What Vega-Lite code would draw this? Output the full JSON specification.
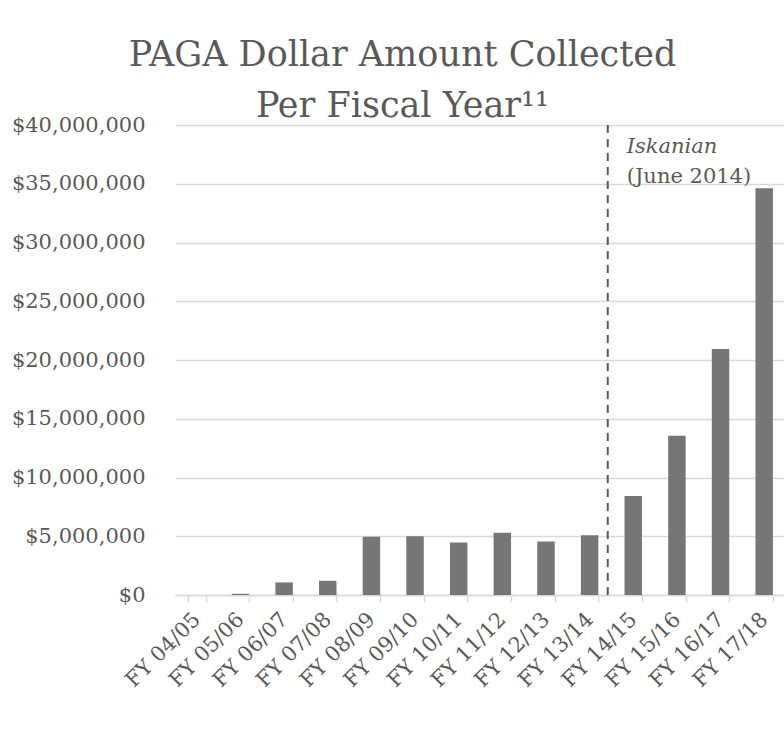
{
  "$schema": "https://vega.github.io/schema/vega-lite/v6.json",
  "autosize": {"type": "none"},
  "padding": {"left": 175, "top": 125, "right": 0, "bottom": 156},
  "width": 611,
  "height": 470,
  "background": "white",
  "title": {
    "text": ["PAGA Dollar Amount Collected", "Per Fiscal Year¹¹"],
    "anchor": "middle",
    "dx": -78,
    "offset": -38,
    "baseline": "alphabetic",
    "lineHeight": 51,
    "font": "DejaVu Serif",
    "fontSize": 35,
    "fontWeight": "normal",
    "color": "#595959"
  },
  "config": {
    "view": {"stroke": null},
    "font": "DejaVu Serif"
  },
  "data": {
    "values": [
      {"year": "FY 04/05", "amount": 0},
      {"year": "FY 05/06", "amount": 100000},
      {"year": "FY 06/07", "amount": 1070000},
      {"year": "FY 07/08", "amount": 1210000},
      {"year": "FY 08/09", "amount": 4960000},
      {"year": "FY 09/10", "amount": 5000000},
      {"year": "FY 10/11", "amount": 4470000},
      {"year": "FY 11/12", "amount": 5300000},
      {"year": "FY 12/13", "amount": 4560000},
      {"year": "FY 13/14", "amount": 5090000},
      {"year": "FY 14/15", "amount": 8420000},
      {"year": "FY 15/16", "amount": 13550000},
      {"year": "FY 16/17", "amount": 20930000},
      {"year": "FY 17/18", "amount": 34620000}
    ]
  },
  "layer": [
    {
      "mark": {"type": "bar", "color": "#767676"},
      "encoding": {
        "x": {
          "field": "year",
          "type": "nominal",
          "sort": null,
          "scale": {"paddingInner": 0.6, "paddingOuter": 0.3},
          "axis": {
            "title": null,
            "domainColor": "#d9d9d9",
            "domainWidth": 1.5,
            "tickColor": "#d9d9d9",
            "tickWidth": 1.5,
            "tickSize": 7,
            "tickBand": "extent",
            "labelAngle": -45,
            "labelAlign": "right",
            "labelBaseline": "middle",
            "labelPadding": 14,
            "labelFont": "DejaVu Serif",
            "labelFontSize": 21,
            "labelColor": "#595959",
            "grid": false
          }
        },
        "y": {
          "field": "amount",
          "type": "quantitative",
          "scale": {"domain": [0, 40000000]},
          "axis": {
            "title": null,
            "values": [0, 5000000, 10000000, 15000000, 20000000, 25000000, 30000000, 35000000, 40000000],
            "format": "$,.0f",
            "domain": false,
            "ticks": false,
            "labelPadding": 30,
            "labelFont": "DejaVu Serif",
            "labelFontSize": 21,
            "labelColor": "#595959",
            "gridColor": "#d9d9d9",
            "gridWidth": 1.5
          }
        }
      }
    },
    {
      "data": {"values": [{}]},
      "mark": {"type": "rule", "color": "#595959", "strokeWidth": 2, "strokeDash": [8, 6], "xOffset": -25.5},
      "encoding": {
        "x": {"datum": "FY 14/15"},
        "y": {"datum": 0},
        "y2": {"datum": 40000000}
      }
    },
    {
      "data": {"values": [{}]},
      "mark": {"type": "text", "text": "Iskanian", "fontStyle": "italic", "align": "left", "baseline": "alphabetic", "dx": -6.5, "fontSize": 21, "color": "#595959", "font": "DejaVu Serif"},
      "encoding": {
        "x": {"datum": "FY 14/15"},
        "y": {"datum": 37600000}
      }
    },
    {
      "data": {"values": [{}]},
      "mark": {"type": "text", "text": "(June 2014)", "align": "left", "baseline": "alphabetic", "dx": -6.5, "fontSize": 21, "color": "#595959", "font": "DejaVu Serif"},
      "encoding": {
        "x": {"datum": "FY 14/15"},
        "y": {"datum": 35100000}
      }
    }
  ]
}
